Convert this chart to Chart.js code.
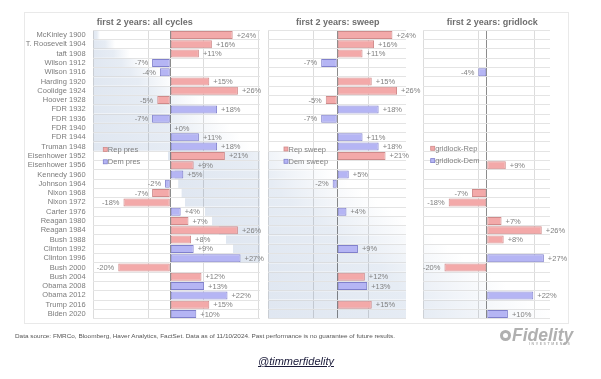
<!DOCTYPE html>
<html><head><meta charset="utf-8">
<script src="https://cdn.jsdelivr.net/npm/chart.js@4.4.1/dist/chart.umd.min.js"></script>
<style>
html,body{margin:0;padding:0;background:#fff;}
body{width:601px;height:379px;position:relative;overflow:hidden;font-family:"Liberation Sans",Arial,sans-serif;}
#box{position:absolute;left:24px;top:12px;width:545px;height:312px;border:1px solid #e9e9e9;box-sizing:border-box;}
canvas{position:absolute;left:0;top:0;}
.title{position:absolute;top:17px;font-weight:bold;font-size:9px;line-height:10px;color:#6e6e6e;white-space:nowrap;}
#src{position:absolute;left:15px;top:333px;font-size:6px;line-height:7px;color:#555;white-space:nowrap;transform-origin:0 50%;}
#logo{position:absolute;left:499px;top:327px;width:82px;height:22px;}
#logo .ic{position:absolute;left:1px;top:3px;width:11px;height:11px;border-radius:50%;background:#b0b0b0;}
#logo .ic2{position:absolute;left:4px;top:6px;width:5px;height:5px;border-radius:50%;background:#fff;}
#logo .fid{position:absolute;left:13px;top:-1px;font-size:17.5px;line-height:18px;font-weight:bold;font-style:italic;color:#b0b0b0;}
#logo .inv{position:absolute;left:30px;top:15px;font-size:3.5px;line-height:4px;letter-spacing:1.6px;color:#b0b0b0;font-weight:bold;}
#handle{position:absolute;left:258px;top:355px;font-size:11px;line-height:13px;font-style:italic;text-decoration:underline;color:#1b1b3a;white-space:nowrap;}
</style>
</head>
<body>
<div id="box"></div>
<canvas id="c1" width="601" height="379"></canvas>
<canvas id="c2" width="601" height="379"></canvas>
<canvas id="c3" width="601" height="379"></canvas>
<div class="title" style="left:96.7px">first 2 years: all cycles</div>
<div class="title" style="left:296px">first 2 years: sweep</div>
<div class="title" style="left:446.7px">first 2 years: gridlock</div>
<div id="src">Data source: FMRCo, Bloomberg, Haver Analytics, FactSet. Data as of 11/10/2024. Past performance is no guarantee of future results.</div>
<div id="logo"><div class="ic"></div><div class="ic2"></div><div class="fid">Fidelity</div><div class="inv">INVESTMENTS</div></div>
<div id="handle">@timmerfidelity</div>
<script>
// ---- data ----
const categories = ["McKinley 1900","T. Roosevelt 1904","taft 1908","Wilson 1912","Wilson 1916","Harding 1920","Coolidge 1924","Hoover 1928","FDR 1932","FDR 1936","FDR 1940","FDR 1944","Truman 1948","Eisenhower 1952","Eisenhower 1956","Kennedy 1960","Johnson 1964","Nixon 1968","Nixon 1972","Carter 1976","Reagan 1980","Reagan 1984","Bush 1988","Clinton 1992","Clinton 1996","Bush 2000","Bush 2004","Obama 2008","Obama 2012","Trump 2016","Biden 2020"];
const party = ["R","R","R","D","D","R","R","R","D","D","D","D","D","R","R","D","D","R","R","D","R","R","R","D","D","R","R","D","D","R","D"];
const allCycles = [24,16,11,-7,-4,15,26,-5,18,-7,0,11,18,21,9,5,-2,-7,-18,4,7,26,8,9,27,-20,12,13,22,15,10];
const sweep = [24,16,11,-7,null,15,26,-5,18,-7,null,11,18,21,null,5,-2,null,null,4,null,null,null,9,null,null,12,13,null,15,null];
const gridlock = [null,null,null,null,-4,null,null,null,null,null,null,null,null,null,9,null,null,-7,-18,null,7,26,8,null,27,-20,null,null,22,null,10];
const seriesLabels = {all:["Rep pres","Dem pres"], sweep:["Rep sweep","Dem sweep"], grid:["gridlock-Rep","gridlock-Dem"]};

const RED = "#f3a9a9", RED_B = "#cf8a8a", BLUE = "#b5b5f4", BLUE_B = "#8080cc";
const FONT = '"Liberation Sans", Arial, sans-serif';
const TOP = 30.35, BOTTOM = 318.65;

function split(arr, p){ return arr.map((v,i)=> party[i]===p ? v : null); }

// decorative diagonal shading band (page pixels, by row index)
const leftKeys = [[0,93],[12,93],[13,168],[18,185],[19,205],[24,240],[25,262],[30,268]];
const rightKeys = [[0,100],[6,190],[12,250],[13,305],[30,550]];
function interp(keys, i){
  for(let k=0;k<keys.length-1;k++){
    const [a,va]=keys[k],[b,vb]=keys[k+1];
    if(i>=a && i<=b) return va+(vb-va)*(i-a)/(b-a);
  }
  return keys[keys.length-1][1];
}
const shadePlugin = {id:'shade', beforeDatasetsDraw(chart){
  const {ctx, chartArea:a} = chart; const y = chart.scales.y;
  ctx.save(); ctx.beginPath(); ctx.rect(a.left,a.top,a.right-a.left,a.bottom-a.top); ctx.clip();
  ctx.globalCompositeOperation='multiply';
  const n = categories.length, h=(a.bottom-a.top)/n;
  for(let i=0;i<n;i++){
    const L=interp(leftKeys,i), R=interp(rightKeys,i);
    if(R<=a.left||L>=a.right) continue;
    const g=ctx.createLinearGradient(L,0,R,0);
    g.addColorStop(0,'rgb(224,231,241)'); g.addColorStop(0.55,'rgb(230,236,244)'); g.addColorStop(1,'rgb(255,255,255)');
    ctx.fillStyle=g; const yc=y.getPixelForValue(i);
    ctx.fillRect(L, yc-h/2+0.5, R-L, h-1);
  }
  ctx.restore();
}};
const labelPlugin = {id:'vals', afterDatasetsDraw(chart){
  const ctx=chart.ctx; ctx.save(); ctx.font='7.5px '+FONT; ctx.fillStyle='#808080'; ctx.textBaseline='middle';
  chart.data.datasets.forEach((ds,di)=>{
    chart.getDatasetMeta(di).data.forEach((bar,i)=>{
      const v=ds.data[i]; if(v==null) return;
      const txt=(v>=0?'+':'')+v+'%';
      if(v>=0){ctx.textAlign='left'; ctx.fillText(txt, bar.x+4, bar.y+0.5);}
      else {ctx.textAlign='right'; ctx.fillText(txt, bar.x-4, bar.y+0.5);}
    });
  });
  ctx.restore();
}};
const legendPlugin = {id:'inLegend', afterDraw(chart,args,o){
  const ctx=chart.ctx; ctx.save(); ctx.font='7.5px '+FONT; ctx.textBaseline='middle'; ctx.textAlign='left';
  chart.data.datasets.forEach((ds,k)=>{
    const yy=o.y+k*12.3;
    ctx.fillStyle=ds.backgroundColor; ctx.fillRect(o.x+0.5, yy-2, 4, 4);
    ctx.strokeStyle=ds.borderColor; ctx.lineWidth=0.8; ctx.strokeRect(o.x+0.5, yy-2, 4, 4);
    ctx.fillStyle='#808080'; ctx.fillText(ds.label, o.x+5, yy+0.5);
  });
  ctx.restore();
}};

function makePanel(id, values, labels, o){
  const ds = (lab, data, bg, bd) => ({label:lab, data, backgroundColor:bg, borderColor:bd, borderWidth:1,
    borderSkipped:false, grouped:false, barPercentage:0.86, categoryPercentage:1});
  return new Chart(document.getElementById(id), {
    type:'bar',
    data:{labels:categories, datasets:[ds(labels[0], split(values,'R'), RED, RED_B), ds(labels[1], split(values,'D'), BLUE, BLUE_B)]},
    options:{
      indexAxis:'y', responsive:false, animation:false, maintainAspectRatio:false,
      layout:{padding:{left:o.padLeft, right:601-o.right, top:TOP, bottom:379-BOTTOM}},
      plugins:{legend:{display:false}, tooltip:{enabled:false}, title:{display:false}, inLegend:{x:o.legX, y:o.legY}},
      scales:{
        x:{min:o.min, max:o.max, ticks:{display:false}, border:{display:false},
           grid:{drawTicks:false, lineWidth:1, color:(c)=> (c.tick && c.tick.value===0) ? '#8c8c8c' : '#dcdcdc'},
           afterBuildTicks:(s)=>{ s.ticks = o.grid.map(v=>({value:v})); },
           afterFit:(s)=>{ s.height=0; }},
        y:{ticks:{display:o.showLabels, autoSkip:false, font:{size:7.5, family:FONT}, color:'#7c7c7c', padding:7.6},
           grid:{drawTicks:false, color:'#e4e4e4', offset:true}, border:{display:false},
           afterFit:(s)=>{ s.width=o.yWidth; }}
      }
    },
    plugins:[shadePlugin, labelPlugin, legendPlugin]
  });
}

makePanel('c1', allCycles, seriesLabels.all, {padLeft:0, yWidth:93.3, right:260, min:-29.6, max:34.5,
  grid:[-29.6,-8.46,0,12.69,33.85], showLabels:true, legX:102.8, legY:149.5});
makePanel('c2', sweep, seriesLabels.sweep, {padLeft:268.3, yWidth:0, right:406, min:-30, max:29.9,
  grid:[-30,-10.43,0,13.48], showLabels:false, legX:283.5, legY:149});
makePanel('c3', gridlock, seriesLabels.grid, {padLeft:423.3, yWidth:0, right:550, min:-30, max:29.9,
  grid:[-30,-3.8,0,22.35], showLabels:false, legX:430.2, legY:148.3});

// fit footer text to its measured width in the reference
const src=document.getElementById('src'); const w=src.getBoundingClientRect().width;
src.style.transform='scaleX('+(380/w)+')';
</script>
</body></html>
